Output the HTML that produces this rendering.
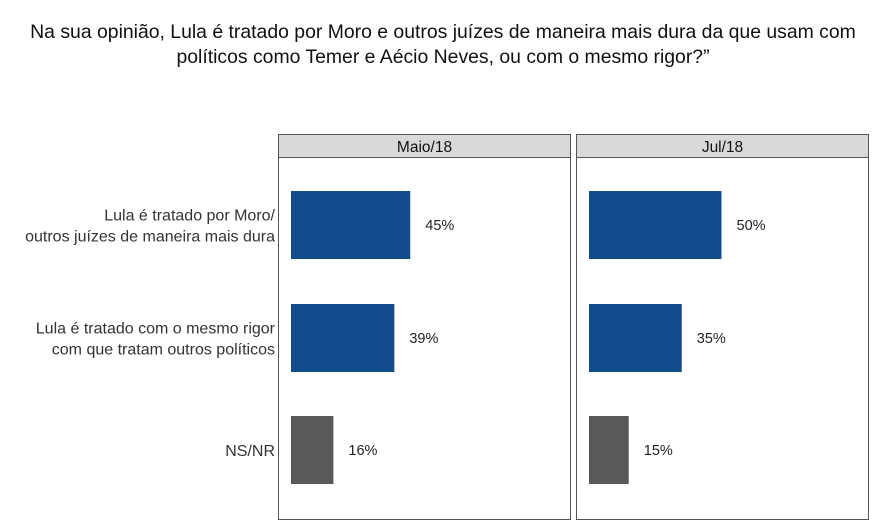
<!DOCTYPE html>
<html><head><meta charset="utf-8"><style>
body{margin:0;background:#fff;font-family:"Liberation Sans",sans-serif;}
#wrap{position:relative;width:886px;height:530px;overflow:hidden}
</style></head><body>
<div id="wrap">
<svg id="svg" width="886" height="530" xmlns="http://www.w3.org/2000/svg">
<text x="443" y="38" text-anchor="middle" font-size="19.4" fill="#111">Na sua opinião, Lula é tratado por Moro e outros juízes de maneira mais dura da que usam com</text>
<text x="443" y="63" text-anchor="middle" font-size="19.4" fill="#111">políticos como Temer e Aécio Neves, ou com o mesmo rigor?”</text>
</svg>
</div>
<script>
const categories=["Lula é tratado por Moro/|outros juízes de maneira mais dura","Lula é tratado com o mesmo rigor|com que tratam outros políticos","NS/NR"];
const panels=["Maio/18","Jul/18"];
const maio=[45,39,16];
const jul=[50,35,15];
const colors=["#124c8c","#124c8c","#595959"];
const series=[maio,jul];
const NS="http://www.w3.org/2000/svg";
const svgEl=document.getElementById('svg');
function mk(t,a){const e=document.createElementNS(NS,t);for(const k in a)e.setAttribute(k,a[k]);svgEl.appendChild(e);return e;}
const panelX=[278,576],panelW=293,panelTop=134,stripH=23,panelBottom=519;
const bandY=[191,304,416],barH=68;
function xs(v,p){return panelX[p]+13+v*2.65;}
categories.forEach((c,i)=>{
  const lines=c.split("|");
  const cy=bandY[i]+barH/2;
  lines.forEach((l,j)=>{
    const t=mk('text',{x:275,y:cy+6+(j-(lines.length-1)/2)*21,'text-anchor':'end','font-size':'16',fill:'#333'});
    
    
    t.textContent=l;
  });
});
panels.forEach((p,pi)=>{
  const x0=panelX[pi];
  const s=mk('rect',{x:x0+0.5,y:panelTop+0.5,width:panelW-1,height:stripH,fill:'#d9d9d9',stroke:'#555','stroke-width':1});
  
  
  const st=mk('text',{x:x0+panelW/2,y:panelTop+18,'text-anchor':'middle','font-size':'15.5',fill:'#111'});
  
  
  st.textContent=p;
  const b=mk('rect',{x:x0+0.5,y:panelTop+stripH+0.5,width:panelW-1,height:panelBottom-panelTop-stripH,fill:'none',stroke:'#555','stroke-width':1});
  
  
  series[pi].forEach((v,i)=>{
    const r=mk('rect',{x:xs(0,pi),y:bandY[i],width:xs(v,pi)-xs(0,pi),height:barH,fill:colors[i]});
    
    
    const t=mk('text',{x:xs(v,pi)+15,y:bandY[i]+barH/2+5,'font-size':'14.5',fill:'#222'});
    
    
    t.textContent=v+"%";
  });
});
</script>
</body></html>
